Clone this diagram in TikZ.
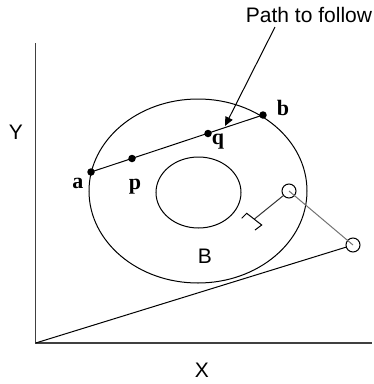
\documentclass[tikz,border=0pt]{standalone}
\usepackage{fontspec}
\setmainfont{Liberation Serif}
\setsansfont{Liberation Sans}
\usetikzlibrary{arrows.meta}
\tikzset{
  dot/.style={circle,fill=black,inner sep=0pt,minimum size=7.5pt},
  ring/.style={circle,draw=black,line width=1pt,inner sep=0pt,minimum size=14pt},
  ptlabel/.style={font=\fontsize{22}{22}\selectfont\bfseries\rmfamily,inner sep=0pt},
  sflabel/.style={font=\fontsize{21}{21}\selectfont\sffamily,inner sep=0pt},
  thin line/.style={line width=1pt,draw=black},
  gray line/.style={line width=1pt,draw=black!55},
}
\begin{document}
\begin{tikzpicture}[x=1pt,y=-1pt]
\useasboundingbox (0,0) rectangle (374,384);
% axes
\coordinate (top) at (35.7,43);
\coordinate (O) at (35.7,343);
\coordinate (xend) at (372,343);
\draw[line width=1.1pt,draw=black!75] (top) -- (O) -- (xend);
% ellipses
\draw[thin line] (198,191) ellipse [x radius=109, y radius=92];
\draw[thin line] (198.5,192.5) ellipse [x radius=42.5, y radius=35.5];
% points
\node[dot] (a) at (91,172) {};
\node[dot] (p) at (132,158.5) {};
\node[dot] (q) at (208,133.5) {};
\node[dot] (b) at (263,115) {};
\draw[thin line] (a.center) -- (b.center);
% labels
\node[ptlabel] (la) at (78,183) {a};
\node[ptlabel] (lp) at (135,187) {p};
\node[ptlabel] (lq) at (218,142) {q};
\node[ptlabel] (lb) at (283,108) {b};
\node[sflabel] (lB) at (205,256) {B};
\node[sflabel] (lY) at (16,132) {Y};
\node[sflabel] (lX) at (202,370) {X};
\node[sflabel] (lpath) at (309,15) {Path to follow};
% arrow
\coordinate (tail) at (275,27);
\coordinate (tip) at (225,126);
\draw[thin line,-{Triangle[length=9pt,width=8pt]}] (tail) -- (tip);
% small circles
\node[ring] (c1) at (289,191) {};
\node[ring] (c2) at (353,245) {};
\draw[gray line] (c1.center) -- (c2.center);
\draw[thin line] (O) -- (c2);
% bracket
\coordinate (m) at (254.2,219.2);
\coordinate (b1) at (246.7,213.3);
\coordinate (b2) at (261.7,225);
\coordinate (t1) at (241.7,218.3);
\coordinate (t2) at (255,230);
\draw[thin line,draw=black!80] (c1) -- (m);
\draw[thin line] (t1) -- (b1) -- (b2) -- (t2);
\end{tikzpicture}
\end{document}
